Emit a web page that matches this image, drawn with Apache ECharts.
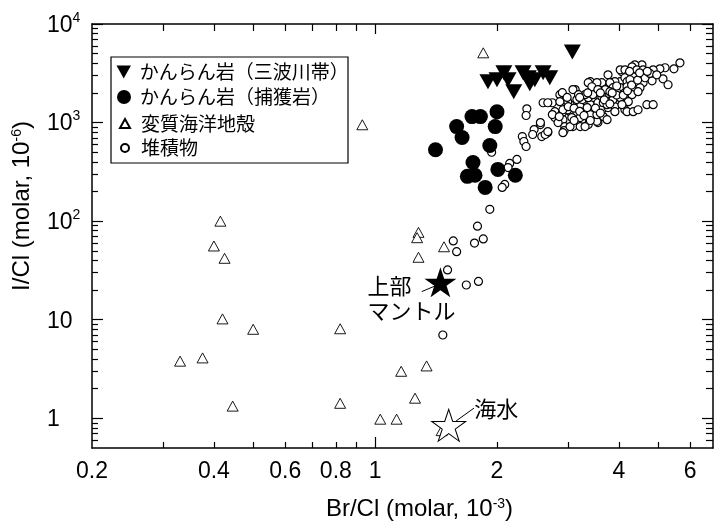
<!DOCTYPE html>
<html>
<head>
<meta charset="utf-8">
<script src="https://cdn.jsdelivr.net/npm/echarts@6/dist/echarts.min.js"></script>
<style>
html, body { margin: 0; padding: 0; background: #fff; }
#chart { width: 714px; height: 529px; }
</style>
</head>
<body>
<div id="chart"></div>
<script>
// Br/Cl (x, 10^-3) vs I/Cl (y, 10^-6)
const sanbagawa = [[1.90, 2600], [2.0, 2720], [2.08, 3200], [2.13, 2720], [2.20, 2060], [2.32, 3200],
  [2.39, 2850], [2.48, 2720], [2.60, 3200], [2.70, 2850], [3.07, 5200], [2.41, 2480]]
const xenolith = [[1.41, 530], [1.59, 910], [1.64, 705], [1.735, 1150], [1.82, 1150], [2.0, 1290],
  [1.98, 910], [1.92, 586], [1.745, 394], [1.69, 285], [1.765, 292], [1.87, 220], [2.01, 335], [2.22, 292]]
const crust = [[0.93, 950], [1.85, 5100], [0.415, 100], [0.40, 56], [0.425, 42], [0.42, 10.2], [0.50, 8],
  [0.82, 8.1], [0.33, 3.8], [0.375, 4.1], [0.445, 1.33], [0.82, 1.42], [1.03, 0.98], [1.13, 0.98],
  [1.255, 1.6], [1.16, 3.0], [1.34, 3.4], [1.28, 77], [1.27, 68], [1.48, 55], [1.28, 43], [1.46, 0.75]]
const sediment = [
  [2.37, 1380], [2.36, 1180], [2.56, 955], [2.47, 850], [2.45, 757], [2.58, 722], [2.67, 792], [2.31, 722],
  [2.33, 643], [2.36, 572], [1.94, 500], [2.24, 423], [2.15, 385], [2.13, 350], [2.09, 236], [2.06, 220],
  [1.92, 132], [1.79, 89], [1.76, 60], [1.85, 66], [1.56, 63], [1.59, 49], [1.51, 32], [1.68, 22.5],
  [1.80, 24.5], [1.47, 7],
  [3.76, 3050], [4.07, 3270], [3.40, 2600], [3.49, 2420], [3.66, 2420], [3.85, 2540], [4.03, 2600],
  [3.12, 2160], [2.86, 1920], [2.74, 1590], [2.94, 1630], [3.15, 1710], [3.27, 1630], [3.45, 1790],
  [3.59, 1830], [3.74, 1920], [3.87, 1830], [4.03, 2060], [4.14, 2260], [3.03, 1520], [3.21, 1450],
  [3.40, 1520], [3.55, 1590], [3.74, 1630], [3.91, 1630], [2.78, 1290], [2.90, 1260], [3.03, 1290],
  [3.15, 1260], [3.30, 1290], [3.45, 1290], [3.63, 1350], [3.76, 1420], [3.91, 1450], [2.78, 1125],
  [2.91, 1070], [3.06, 1125], [3.21, 1125], [3.36, 1125], [3.49, 1125], [3.66, 1150], [2.94, 910],
  [3.08, 910], [3.21, 910], [3.36, 955], [3.55, 1000], [3.74, 1070], [2.63, 757], [2.67, 810],
  [2.56, 1000], [4.14, 1350], [2.60, 1590],
  [5.66, 4040], [5.47, 3510], [5.20, 3600], [5.05, 3510], [4.86, 3430], [4.56, 3850], [4.38, 3850],
  [4.31, 3680], [4.43, 3430], [4.59, 3430], [4.03, 3430], [4.14, 3430], [4.22, 3050], [4.34, 2915],
  [4.56, 3050], [4.14, 2850], [4.38, 2540], [4.59, 2540], [4.83, 2655], [5.14, 2780], [5.29, 2420],
  [4.19, 2600], [3.91, 2600], [3.80, 2540], [3.63, 2540], [3.70, 2160], [3.87, 2260], [4.03, 2260],
  [4.19, 2310], [4.34, 2160], [4.51, 2260], [3.96, 2010], [4.14, 2010], [4.31, 1920], [4.46, 2060],
  [3.87, 1710], [4.03, 1790], [4.22, 1630], [4.69, 1520], [4.86, 1520], [4.19, 1290], [4.34, 1290],
  [4.46, 1350], [3.63, 1830], [3.66, 1590], [3.74, 1520],
  [3.08, 2160], [2.99, 1630], [2.93, 830], [2.83, 1000], [2.74, 1205], [2.67, 1590], [2.91, 790],
  [3.03, 910], [3.25, 1710], [3.36, 1790], [3.45, 1920], [3.53, 2540], [3.36, 2540], [3.43, 2310],
  [3.30, 1920], [3.53, 1030], [3.40, 1205], [3.53, 1205], [3.30, 910], [2.99, 1350], [2.91, 1350],
  [2.86, 1630], [2.90, 2010], [3.55, 2160], [3.80, 2060], [4.26, 2720], [4.64, 2850], [4.77, 3150],
  [4.96, 3050], [3.91, 1290], [4.07, 1520], [3.34, 1420], [3.18, 1920],
  [3.00, 1450], [3.10, 1400], [3.20, 1300], [3.28, 1180], [3.40, 1050], [3.50, 1400], [3.60, 1250],
  [3.68, 1700], [3.80, 1550], [3.95, 1900], [4.10, 1900], [4.20, 2100], [4.30, 2400], [4.45, 2700],
  [4.50, 3200], [4.70, 3300], [3.85, 2000], [3.60, 2000], [3.35, 2000], [3.20, 1800], [2.98, 1800],
  [3.10, 1050], [2.85, 1150], [3.95, 2350], [4.25, 3300]
]
const upperMantle = [1.45, 24]
const seawater = [1.52, 0.85]
const mantleLeader = [[1.304, 19.3], [1.425, 22.5]]
const seaLeader = [[1.755, 1.27], [1.585, 0.94]]

const xLabels = [0.2, 0.4, 0.6, 0.8, 1, 2, 4, 6]
const xMajor = [1]
const xMinor = [0.3, 0.4, 0.5, 0.6, 0.7, 0.8, 0.9, 2, 3, 4, 5, 6]
const yLabels = [1, 10, 100, 1000, 10000]
const yMajor = [1, 10, 100, 1000, 10000]
const yMinor = [0.6, 0.7, 0.8, 0.9, 2, 3, 4, 5, 6, 7, 8, 9, 20, 30, 40, 50, 60, 70, 80, 90,
  200, 300, 400, 500, 600, 700, 800, 900, 2000, 3000, 4000, 5000, 6000, 7000, 8000, 9000]

const X_MIN = 0.2, X_MAX = 6.83, Y_MIN = 0.5, Y_MAX = 10000
const SANS = 'Liberation Sans, Arial, sans-serif'
const JP = 'Noto Sans CJK JP'
const DOWN_TRI = 'path://M0,0L10,0L5,9Z'
const STAR = 'path://M100,0L122.45,69.1L195.1,69.1L136.3,111.8L158.8,180.9L100,138.2L41.2,180.9L63.7,111.8L4.9,69.1L77.55,69.1Z'
const black = { color: '#000', width: 1.5 }

const chart = echarts.init(document.getElementById('chart'))

function xAxis(pos, ticks, len, main) {
  return {
    type: 'log', min: X_MIN, max: X_MAX, position: pos,
    axisLine: { show: main, onZero: false, lineStyle: black },
    axisTick: { show: true, inside: true, length: len, customValues: ticks, lineStyle: { color: '#000', width: 1.2 } },
    axisLabel: pos === 'bottom' && main
      ? { show: true, customValues: xLabels, fontSize: 23, color: '#000', fontFamily: SANS, margin: 12,
          formatter: v => String(+(+v).toPrecision(3)) }
      : { show: false },
    splitLine: { show: false },
  }
}
function yAxis(pos, ticks, len, main) {
  return {
    type: 'log', min: Y_MIN, max: Y_MAX, position: pos,
    axisLine: { show: main, onZero: false, lineStyle: black },
    axisTick: { show: true, inside: true, length: len, customValues: ticks, lineStyle: { color: '#000', width: 1.2 } },
    axisLabel: pos === 'left' && main
      ? {
          show: true, customValues: yLabels, align: 'left', margin: 45,
          formatter: v => {
            const e = Math.round(Math.log10(v))
            return e >= 2 ? '{n|10}{s|' + e + '}' : '{n|' + Math.round(v) + '}'
          },
          rich: {
            n: { fontSize: 23, fontFamily: SANS, color: '#000', lineHeight: 26, verticalAlign: 'bottom' },
            s: { fontSize: 14, fontFamily: SANS, color: '#000', lineHeight: 16, verticalAlign: 'top' },
          },
        }
      : { show: false },
    splitLine: { show: false },
  }
}

const xAxes = [xAxis('bottom', xMajor, 11, true), xAxis('bottom', xMinor, 6, false),
  xAxis('top', xMajor, 10, true), xAxis('top', xMinor, 7, false)]
Object.assign(xAxes[0], {
  name: 'Br/Cl (molar, 10{s|-3})', nameLocation: 'middle', nameGap: 49,
  nameTextStyle: { fontSize: 24, color: '#000', fontFamily: SANS, padding: [0, 0, 0, 34],
    rich: { s: { fontSize: 14, fontFamily: SANS, verticalAlign: 'top', lineHeight: 14 } } },
})
const yAxes = [yAxis('left', yMajor, 11, true), yAxis('left', yMinor, 6, false),
  yAxis('right', yMajor, 11, true), yAxis('right', yMinor, 7, false)]
Object.assign(yAxes[0], {
  name: 'I/Cl (molar, 10{s|-6})', nameLocation: 'middle', nameGap: 58,
  nameTextStyle: { fontSize: 24, color: '#000', fontFamily: SANS, padding: [0, 0, 0, 60],
    rich: { s: { fontSize: 14, fontFamily: SANS, verticalAlign: 'top', lineHeight: 14 } } },
})

const legendRows = [
  { name: 'かんらん岩（三波川帯）', w: 15, h: 13, y: 72 },
  { name: 'かんらん岩（捕獲岩）', w: 14, h: 14, y: 97 },
  { name: '変質海洋地殻', w: 10, h: 9, y: 123.5 },
  { name: '堆積物', w: 8, h: 8, y: 148 },
]

chart.setOption({
  animation: false,
  textStyle: { fontFamily: SANS },
  grid: { left: 92, right: 1, top: 24, bottom: 81 },
  xAxis: xAxes,
  yAxis: yAxes,
  graphic: [{
    type: 'rect', z: 50, shape: { x: 111, y: 57, width: 237, height: 106 },
    style: { fill: '#fff', stroke: '#000', lineWidth: 1.2 },
  }],
  legend: legendRows.map(r => ({
    data: [r.name], z: 60, padding: 0, selectedMode: false,
    left: 124 - r.w / 2, top: r.y - 10, itemWidth: r.w, itemHeight: r.h,
    textStyle: { fontSize: 19, fontFamily: JP, color: '#000', lineHeight: 20, padding: [0, 0, 0, 11 - r.w / 2] },
  })),
  series: [
    {
      name: '堆積物', type: 'scatter', data: sediment, symbol: 'circle', symbolSize: 8,
      itemStyle: { color: '#fff', borderColor: '#000', borderWidth: 1.2, opacity: 1 },
    },
    {
      name: '変質海洋地殻', type: 'scatter', data: crust, symbol: 'triangle', symbolSize: [11, 10],
      itemStyle: { color: '#fff', borderColor: '#000', borderWidth: 0.9, opacity: 1 },
    },
    {
      name: 'かんらん岩（捕獲岩）', type: 'scatter', data: xenolith, symbol: 'circle', symbolSize: 15,
      itemStyle: { color: '#000', opacity: 1 },
    },
    {
      name: 'かんらん岩（三波川帯）', type: 'scatter', data: sanbagawa, symbol: DOWN_TRI, symbolSize: [17, 15],
      itemStyle: { color: '#000', opacity: 1 },
    },
    {
      name: '上部マントル', type: 'scatter', data: [upperMantle], symbol: STAR, symbolSize: [32, 30],
      itemStyle: { color: '#000', opacity: 1 }, z: 5,
      label: { show: true, formatter: '上部\nマントル', position: [-57, 6], align: 'left', verticalAlign: 'top',
        fontSize: 22, lineHeight: 25, fontFamily: JP, color: '#000' },
      markLine: { silent: true, symbol: ['none', 'none'], label: { show: false },
        lineStyle: { color: '#000', width: 1, type: 'solid' },
        data: [[{ coord: mantleLeader[0] }, { coord: mantleLeader[1] }]] },
    },
    {
      name: '海水', type: 'scatter', data: [seawater], symbol: STAR, symbolSize: [34, 32],
      itemStyle: { color: '#fff', borderColor: '#000', borderWidth: 1, opacity: 1 }, z: 5,
      label: { show: true, formatter: '海水', position: [43, -12.5], align: 'left', verticalAlign: 'top',
        fontSize: 22, lineHeight: 25, fontFamily: JP, color: '#000' },
      markLine: { silent: true, symbol: ['none', 'none'], label: { show: false },
        lineStyle: { color: '#000', width: 1, type: 'solid' },
        data: [[{ coord: seaLeader[0] }, { coord: seaLeader[1] }]] },
    },
  ],
})
</script>
</body>
</html>
